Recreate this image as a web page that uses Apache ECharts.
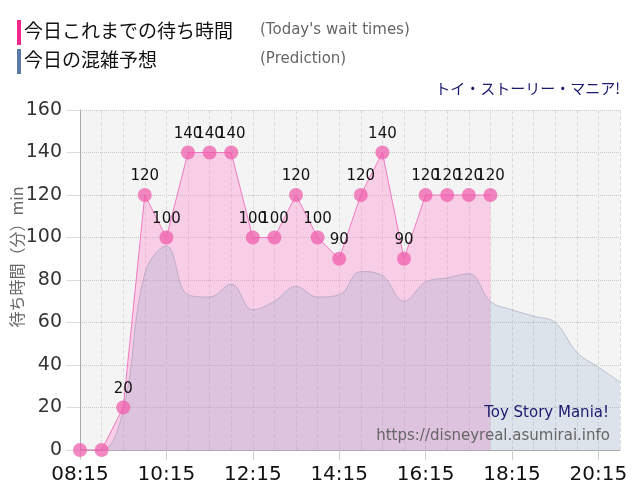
<!DOCTYPE html>
<html><head><meta charset="utf-8">
<script src="https://cdn.jsdelivr.net/npm/echarts@6/dist/echarts.min.js"></script>
<style>html,body{margin:0;padding:0;background:#fff}#c{width:640px;height:500px}</style>
</head><body><div id="c"></div>
<script>
var times = ['08:15','08:45','09:15','09:45','10:15','10:45','11:15','11:45','12:15','12:45','13:15','13:45','14:15','14:45','15:15','15:45','16:15','16:45','17:15','17:45','18:15','18:45','19:15','19:45','20:15','20:45'];
var actualWait = [0,0,20,120,100,140,140,140,100,100,120,100,90,120,140,90,120,120,120,120];
var predicted = [0,0,19,83,96,73,72,78,66,70,77,72,73,84,82,70,79,81,83,70,66,63,60,46,39,32];
var yTicks = [0,20,40,60,80,100,120,140,160];

var chart = echarts.init(document.getElementById('c'));
var jp = '"Noto Sans CJK JP", sans-serif';
var num = '"DejaVu Sans", Verdana, sans-serif';
chart.setOption({
  animation: false,
  grid: {left: 80, right: 20, top: 110, bottom: 50, show: true, backgroundColor: '#f4f4f4', borderWidth: 0},
  xAxis: {
    type: 'category', data: times, boundaryGap: false,
    axisLine: {lineStyle: {color: '#aaaaaa'}},
    axisTick: {interval: 3, length: 10, lineStyle: {color: '#cccccc'}},
    axisLabel: {interval: 3, fontSize: 20, color: '#111', fontFamily: num, margin: 15},
    splitLine: {show: true, interval: 0, lineStyle: {color: '#dcdcdc', type: 'dashed'}}
  },
  yAxis: {
    type: 'value', min: yTicks[0], max: yTicks[yTicks.length-1], interval: 20,
    axisLine: {show: true, lineStyle: {color: '#aaaaaa'}},
    axisTick: {show: true, length: 14, lineStyle: {color: '#dddddd'}},
    axisLabel: {fontSize: 19, color: '#333', fontFamily: num, margin: 18},
    splitLine: {lineStyle: {color: '#c8c8c8', type: 'dotted'}}
  },
  graphic: [
    {type: 'rect', shape: {x: 17, y: 20, width: 4, height: 25}, style: {fill: '#f0288c'}},
    {type: 'text', left: 24, top: 21, style: {text: '今日これまでの待ち時間', font: '19px ' + jp, fill: '#111'}},
    {type: 'text', left: 260, top: 23, style: {text: "(Today's wait times)", font: '15px ' + num, fill: '#666'}},
    {type: 'rect', shape: {x: 17, y: 49, width: 4, height: 25}, style: {fill: '#5b7aa8'}},
    {type: 'text', left: 24, top: 50, style: {text: '今日の混雑予想', font: '19px ' + jp, fill: '#111'}},
    {type: 'text', left: 260, top: 52, style: {text: '(Prediction)', font: '15px ' + num, fill: '#666'}},
    {type: 'text', right: 20, top: 81, style: {text: 'トイ・ストーリー・マニア!', font: '15px ' + jp, fill: '#1a1a6e'}},
    {type: 'text', x: 17, y: 257, rotation: Math.PI/2, style: {text: '待ち時間（分）min', font: '16px ' + jp, fill: '#666', align: 'center', verticalAlign: 'middle'}},
    {type: 'text', right: 31, top: 406, z: 10, style: {text: 'Toy Story Mania!', font: '15px ' + num, fill: '#1a1a6e'}},
    {type: 'text', right: 30, top: 429, z: 10, style: {text: 'https://disneyreal.asumirai.info', font: '15px ' + num, fill: '#666'}}
  ],
  series: [
    {type: 'line', data: actualWait, z: 1, symbol: 'none', lineStyle: {width: 0},
     areaStyle: {color: 'rgba(255,120,200,0.44)'}},
    {type: 'line', data: predicted, z: 2, smooth: 0.4, symbol: 'none',
     lineStyle: {color: 'rgba(140,140,170,0.45)', width: 1},
     areaStyle: {color: 'rgba(110,150,185,0.25)'}},
    {type: 'line', data: actualWait, z: 3, symbol: 'circle', symbolSize: 14, showAllSymbol: true,
     lineStyle: {color: '#f07ac0', width: 1},
     itemStyle: {color: 'rgba(240,90,170,0.72)'},
     label: {show: true, position: 'top', distance: 4, fontSize: 15, color: '#111', fontFamily: num,
       formatter: function (p) { return p.value === 0 ? '' : String(p.value); }}}
  ]
});
</script></body></html>
